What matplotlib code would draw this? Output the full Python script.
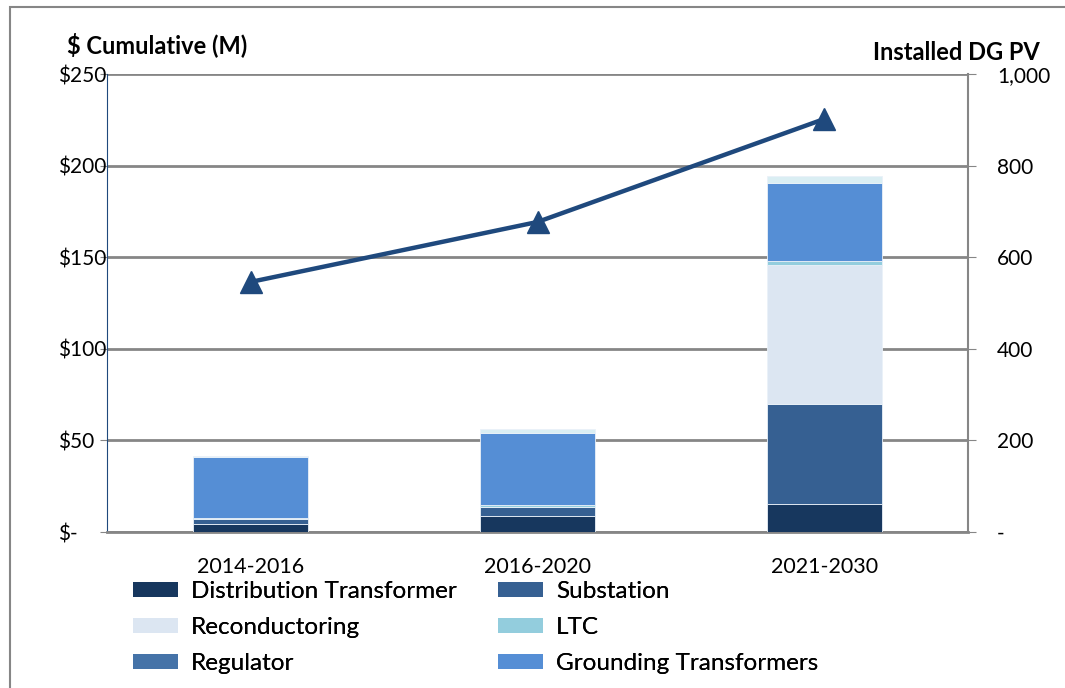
import matplotlib.pyplot as plt
from matplotlib.patches import Rectangle, Patch
import numpy as np

plt.rcParams["font.family"] = ["Lato", "DejaVu Sans"]

periods = ["2014-2016", "2016-2020", "2021-2030"]

# $M per component, stacked bottom to top
dist_transformer = [4.2, 8.7, 15.3]
substation = [2.7, 4.7, 54.6]
reconductoring = [0.0, 0.0, 75.9]
ltc = [0.8, 1.6, 2.2]
regulator = [0.0, 0.0, 0.0]
grounding = [33.1, 39.1, 42.7]
other_top = [0.7, 2.0, 3.6]  # thin pale band on top, no legend entry

installed_pv = [546, 677, 902]

series = [
    ("Distribution Transformer", dist_transformer, "#17375E"),
    ("Substation", substation, "#366092"),
    ("Reconductoring", reconductoring, "#DCE6F2"),
    ("LTC", ltc, "#93CDDD"),
    ("Regulator", regulator, "#4573A8"),
    ("Grounding Transformers", grounding, "#558ED5"),
    (None, other_top, "#DAEEF3"),
]

fig = plt.figure(figsize=(10.65, 6.88), dpi=100)
ax = fig.add_axes([0.1005, 0.2267, 0.8084, 0.6657])

x = np.arange(len(periods))
bottom = np.zeros(len(periods))
for name, vals, color in series:
    ax.bar(x, vals, 0.4, bottom=bottom, color=color, edgecolor="#EAF1F8",
           linewidth=0.6, zorder=3)
    bottom += np.array(vals)

ax.set_xlim(-0.5, 2.5)
ax.set_ylim(0, 250)
ax.set_yticks(np.arange(0, 251, 50))
ax.set_yticklabels(["$-", "$50", "$100", "$150", "$200", "$250"])
ax.set_xticks(x)
ax.set_xticklabels(periods)
ax.grid(axis="y", color="#868686", linewidth=2, zorder=0)
ax.tick_params(axis="y", length=5, color="#868686", labelsize=15, pad=30)
for lbl in ax.get_yticklabels():
    lbl.set_horizontalalignment("left")
ax.tick_params(axis="x", length=0, labelsize=15.5, pad=18)
for s in ["top", "right"]:
    ax.spines[s].set_visible(False)
ax.spines["left"].set_color("#1F497D")
ax.spines["left"].set_linewidth(0.8)
ax.spines["bottom"].set_color("#868686")
ax.spines["bottom"].set_linewidth(2)

ax2 = ax.twinx()
ax2.plot(x, installed_pv, color="#1F497D", linewidth=3.2, marker="^",
         markersize=16, zorder=5)
ax2.set_ylim(0, 1000)
ax2.set_yticks(np.arange(0, 1001, 200))
ax2.set_yticklabels(["-", "200", "400", "600", "800", "1,000"])
ax2.tick_params(axis="y", length=6, color="#868686", labelsize=15, pad=15)
for s in ["top", "left", "bottom"]:
    ax2.spines[s].set_visible(False)
ax2.spines["right"].set_color("#868686")
ax2.spines["right"].set_linewidth(1.5)

fig.text(67 / 1065, 1 - 45 / 688, "$ Cumulative (M)", fontsize=17,
         fontweight="bold", ha="left", va="center")
fig.text(1040 / 1065, 1 - 53 / 688, "Installed DG PV", fontsize=17,
         fontweight="bold", ha="right", va="center")

handles = {name: Patch(facecolor=color) for name, _, color in series if name}
left_names = ["Distribution Transformer", "Reconductoring", "Regulator"]
right_names = ["Substation", "LTC", "Grounding Transformers"]
for names, xpos in [(left_names, 133), (right_names, 498)]:
    leg = fig.legend([handles[n] for n in names], names,
                     loc="upper left", bbox_to_anchor=(xpos / 1065, 1 - 581 / 688),
                     frameon=False, fontsize=17.5, handlelength=1.85,
                     handleheight=0.62, handletextpad=0.53, labelspacing=0.62,
                     borderpad=0, borderaxespad=0)
    fig.add_artist(leg)

fig.add_artist(Rectangle((10 / 1065, -0.1), 1.2, 1 - 7 / 688 + 0.1,
                         transform=fig.transFigure, fill=False,
                         edgecolor="#868686", linewidth=1.5))

fig.savefig("out.png", dpi=100)
